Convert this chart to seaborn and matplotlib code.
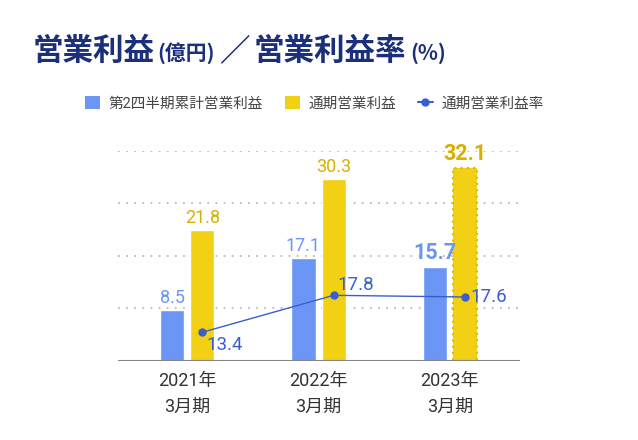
import matplotlib
matplotlib.use('Agg')
import matplotlib.pyplot as plt
from matplotlib.patches import Patch
from matplotlib.lines import Line2D
import seaborn as sns
import numpy as np
import pandas as pd

# data
periods = ['2021年\n3月期', '2022年\n3月期', '2023年\n3月期']
q2_profit = [8.5, 17.1, 15.7]
full_profit = [21.8, 30.3, 32.1]
margin = [13.4, 17.8, 17.6]
series_names = ['第2四半期累計営業利益', '通期営業利益', '通期営業利益率']

BLUE = '#6B96F5'
YELLOW = '#F2D013'
GOLD = '#D8B000'
LINE_BLUE = '#3A5FCD'
NAVY = '#1B2F7A'
GRID = '#BBBBBB'

sns.set_style('white')
plt.rcParams['font.family'] = ['Roboto', 'Noto Sans CJK JP', 'DejaVu Sans']

df = pd.DataFrame({
    'period': periods * 2,
    'value': q2_profit + full_profit,
    'series': [series_names[0]] * 3 + [series_names[1]] * 3,
})

fig = plt.figure(figsize=(6.38, 4.4), dpi=100)
ax = fig.add_axes([0.185, 0.18, 0.63, 0.477])

sns.barplot(data=df, x='period', y='value', hue='series', order=periods,
            hue_order=series_names[:2], palette=[BLUE, YELLOW],
            width=0.46, gap=0.2, saturation=1, legend=False, ax=ax)

ax.set_ylim(0, 35)
ax.set_xlim(-0.527, 2.534)
for y in np.arange(8.75, 35.1, 8.75):
    ax.axhline(y, color=GRID, lw=1.3, ls=(0, (1, 3.5)), zorder=0)
ax.axhline(0, color='#888888', lw=1.5, zorder=3)
sns.despine(ax=ax, left=True, bottom=True)
ax.set_yticks([])
ax.set_xlabel('')
ax.set_ylabel('')
ax.tick_params(axis='x', length=0, pad=8, labelsize=13, labelcolor='#333333')
for t in ax.get_xticklabels():
    t.set_linespacing(1.55)

# forecast bar: dotted edge
blue_bars, yellow_bars = ax.containers[0], ax.containers[1]
yellow_bars[2].set_edgecolor('#E0B800')
yellow_bars[2].set_linestyle((0, (1, 2)))
yellow_bars[2].set_linewidth(1.5)

# bar labels
for i, bar in enumerate(blue_bars):
    last = i == 2
    ax.text(bar.get_x() + bar.get_width() / 2, bar.get_height() + 0.5,
            f'{q2_profit[i]:.1f}', ha='center', va='bottom', color=BLUE,
            fontsize=15.5 if last else 13, fontweight='bold' if last else 'normal')
for i, bar in enumerate(yellow_bars):
    last = i == 2
    ax.text(bar.get_x() + bar.get_width() / 2, bar.get_height() + 0.5,
            f'{full_profit[i]:.1f}', ha='center', va='bottom', color=GOLD,
            fontsize=15.5 if last else 13, fontweight='bold' if last else 'normal')

# margin line on secondary axis
ax2 = ax.twinx()
line_x = [b.get_x() + b.get_width() / 2 for b in yellow_bars]
sns.lineplot(x=line_x, y=margin, ax=ax2, color=LINE_BLUE, lw=1,
             marker='o', markersize=6, markeredgewidth=0)
ax2.set_ylim(10, 35)
ax2.set_xlim(-0.527, 2.534)
ax2.set_yticks([])
ax2.set_ylabel('')
sns.despine(ax=ax2, left=True, bottom=True, right=True)
offsets = [(0.03, -0.4, 'top'), (0.03, 0.2, 'bottom'), (0.04, 0, 'center')]
for x, m, (dx, dy, va) in zip(line_x, margin, offsets):
    ax2.text(x + dx, m + dy, f'{m:.1f}', ha='left', va=va,
             color=LINE_BLUE, fontsize=13.5)

# legend
handles = [
    Patch(facecolor=BLUE, edgecolor='none'),
    Patch(facecolor=YELLOW, edgecolor='none'),
    Line2D([], [], color=LINE_BLUE, lw=1.5, marker='o', markersize=6,
           markeredgewidth=0),
]
fig.legend(handles, series_names, loc='center', bbox_to_anchor=(0.493, 0.765),
           ncol=3, frameon=False, fontsize=10.5, handlelength=1.0,
           handleheight=1.0, handletextpad=0.6, columnspacing=1.5,
           labelcolor='#444444')

# title made of pieces with different sizes
fig.canvas.draw()
renderer = fig.canvas.get_renderer()
parts = [('営業利益', 22, 0), ('(億円)', 15, 2), ('／', 22, 3),
         ('営業利益率', 22, 1), ('(%)', 15, 3)]
x = 33 / 638
for txt, size, gap in parts:
    t = fig.text(x + gap / 638, 0.863, txt, fontsize=size, fontweight='bold',
                 color=NAVY, ha='left', va='baseline',
                 family=['Noto Sans CJK JP', 'DejaVu Sans'])
    bb = t.get_window_extent(renderer)
    x = (bb.x1 + gap) / fig.bbox.width

fig.savefig('out.png', dpi=100)
